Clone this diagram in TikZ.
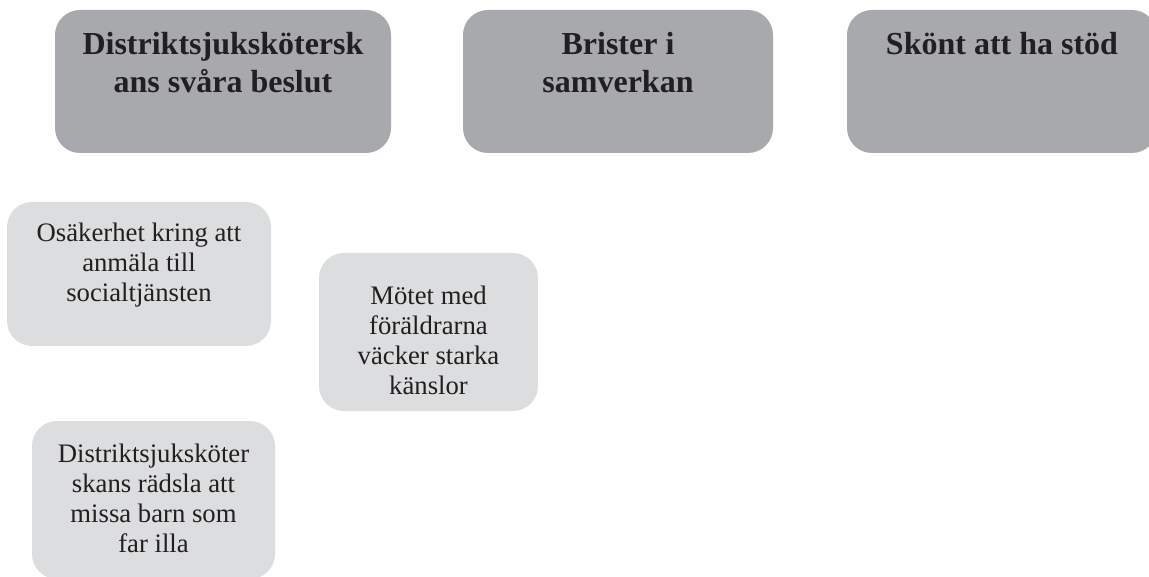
\documentclass[tikz,border=0pt]{standalone}
\usepackage{fontspec}
\setmainfont{Liberation Serif}
\definecolor{darkbox}{HTML}{A7A9AC}
\definecolor{lightbox}{HTML}{DCDDDE}
\definecolor{ink}{HTML}{231F20}
\tikzset{
  topbox/.style={draw=none, fill=darkbox, rounded corners=25pt, minimum height=143pt, inner sep=0pt},
  subbox/.style={draw=none, fill=lightbox, rounded corners=25pt, inner sep=0pt},
  toptext/.style={text=ink, align=center, inner sep=0pt, font=\fontsize{32pt}{38pt}\selectfont\bfseries},
  subtext/.style={text=ink, align=center, inner sep=0pt, font=\fontsize{26.7pt}{30pt}\selectfont},
}
\begin{document}
\begin{tikzpicture}[x=1pt,y=-1pt]
\useasboundingbox (0,0) rectangle (1149,577);
\begin{scope}
\clip (0,0) rectangle (1149,577);
\node[topbox, minimum width=336pt] (b1) at (223,81.5) {};
\node[topbox, minimum width=310pt] (b2) at (618,81.5) {};
\node[topbox, minimum width=310pt] (b3) at (1002,81.5) {};
\node[subbox, minimum width=264pt, minimum height=144pt] (s1) at (139,274) {};
\node[subbox, minimum width=219pt, minimum height=158pt] (s2) at (428.5,332) {};
\node[subbox, minimum width=243pt, minimum height=158pt] (s3) at (153.5,500) {};
\end{scope}
% anchor=base is the baseline of the last line
\node[toptext, anchor=base] (t1) at (223,93) {Distriktsjukskötersk\\ans svåra beslut};
\node[toptext, anchor=base] (t2) at (618,93) {Brister i\\samverkan};
\node[toptext, anchor=base] (t3) at (1002,55) {Skönt att ha stöd};
\node[subtext, anchor=base] (u1) at (139,302) {Osäkerhet kring att\\anmäla till\\socialtjänsten};
\node[subtext, anchor=base] (u2) at (428.5,394) {Mötet med\\föräldrarna\\väcker starka\\känslor};
\node[subtext, anchor=base] (u3) at (153.5,552) {Distriktsjuksköter\\skans rädsla att\\missa barn som\\far illa};
\end{tikzpicture}
\end{document}
